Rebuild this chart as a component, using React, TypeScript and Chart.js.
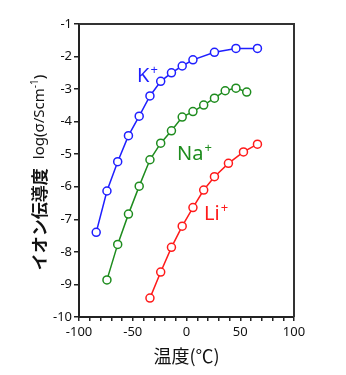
import React, { useEffect, useRef } from "react";
import { Chart, registerables } from "chart.js";

Chart.register(...registerables);

const kTemp = [-84, -74, -64, -54, -44, -34, -24, -14, -4, 6, 26, 46, 66];
const kVal = [-7.4, -6.13, -5.23, -4.43, -3.83, -3.21, -2.76, -2.5, -2.29, -2.1, -1.87, -1.75, -1.75];
const naTemp = [-74, -64, -54, -44, -34, -24, -14, -4, 6, 16, 26, 36, 46, 56];
const naVal = [-8.86, -7.77, -6.84, -5.98, -5.17, -4.66, -4.28, -3.86, -3.69, -3.49, -3.28, -3.05, -2.97, -3.09];
const liTemp = [-34, -24, -14, -4, 6, 16, 26, 39, 53, 66];
const liVal = [-9.42, -8.62, -7.86, -7.21, -6.64, -6.1, -5.69, -5.28, -4.93, -4.69];

const seriesNames = ["K", "Na", "Li"];
const seriesColors = ["#1f1fff", "#1e8c1e", "#ff1a1a"];
// label anchor positions in data units (temperature, log σ)
const labelX = [-46, -8.8, 16.3];
const labelY = [-2.78, -5.18, -7.02];

const xTitle = "温度(℃)";
const yTitleJa = "イオン伝導度";
const yTitleLog = "log(σ/Scm";
const yTitleSup = "-1";

const FONT = '"Noto Sans", "Noto Sans CJK JP", sans-serif';
const JFONT = '"Noto Sans CJK JP", "Noto Sans", sans-serif';

const pts = (xs: number[], ys: number[]) => xs.map((x, i) => ({ x, y: ys[i] }));

const decorPlugin = {
  id: "decor",
  afterDraw(chart: any) {
    const { ctx, chartArea: a, scales } = chart;
    ctx.save();
    // top and right frame
    ctx.strokeStyle = "#333";
    ctx.lineWidth = 2;
    ctx.beginPath();
    ctx.moveTo(a.left, a.top);
    ctx.lineTo(a.right, a.top);
    ctx.lineTo(a.right, a.bottom);
    ctx.stroke();

    // series labels
    ctx.textBaseline = "alphabetic";
    ctx.textAlign = "left";
    seriesNames.forEach((n, i) => {
      const px = scales.x.getPixelForValue(labelX[i]);
      const py = scales.y.getPixelForValue(labelY[i]);
      ctx.fillStyle = seriesColors[i];
      ctx.font = `20px ${FONT}`;
      ctx.fillText(n, px, py);
      const w = ctx.measureText(n).width;
      ctx.font = `13px ${FONT}`;
      ctx.fillText("+", px + w + 1, py - 8);
    });

    // x title
    ctx.fillStyle = "#111";
    ctx.font = `18px ${JFONT}`;
    ctx.textAlign = "center";
    ctx.textBaseline = "middle";
    ctx.fillText(xTitle, (a.left + a.right) / 2, 356);

    // y title (rotated)
    ctx.translate(40, (a.top + a.bottom) / 2 + 2);
    ctx.rotate(-Math.PI / 2);
    ctx.textAlign = "left";
    ctx.textBaseline = "middle";
    ctx.font = `bold 17px ${JFONT}`;
    const w1 = ctx.measureText(yTitleJa).width;
    ctx.font = `15px ${FONT}`;
    const w2 = ctx.measureText(yTitleLog).width;
    ctx.font = `10px ${FONT}`;
    const w3 = ctx.measureText(yTitleSup).width;
    ctx.font = `15px ${FONT}`;
    const w4 = ctx.measureText(")").width;
    const gap = 9;
    const total = w1 + gap + w2 + w3 + w4;
    let cx = -total / 2;
    ctx.font = `bold 17px ${JFONT}`;
    ctx.fillText(yTitleJa, cx, 0);
    cx += w1 + gap;
    ctx.font = `15px ${FONT}`;
    ctx.fillText(yTitleLog, cx, 0);
    cx += w2;
    ctx.font = `10px ${FONT}`;
    ctx.fillText(yTitleSup, cx, -5);
    cx += w3;
    ctx.font = `15px ${FONT}`;
    ctx.fillText(")", cx, 0);
    ctx.restore();
  },
};

export default function App() {
  const ref = useRef<HTMLCanvasElement>(null);
  useEffect(() => {
    document.body.style.margin = "0";
    const mk = (i: number, xs: number[], ys: number[]) => ({
      label: seriesNames[i],
      data: pts(xs, ys),
      borderColor: seriesColors[i],
      backgroundColor: "#fff",
      pointBackgroundColor: "#fff",
      pointBorderColor: seriesColors[i],
      pointRadius: 4,
      pointBorderWidth: 1.5,
      borderWidth: 1.5,
      tension: 0,
    });
    const chart = new Chart(ref.current!, {
      type: "line",
      data: {
        datasets: [mk(0, kTemp, kVal), mk(1, naTemp, naVal), mk(2, liTemp, liVal)],
      },
      options: {
        responsive: false,
        animation: false,
        layout: { padding: { top: 24, right: 52, left: 0, bottom: 0 } },
        plugins: { legend: { display: false }, tooltip: { enabled: false } },
        scales: {
          x: {
            type: "linear",
            min: -100,
            max: 100,
            afterFit: (s: any) => {
              s.height = 58;
            },
            border: { display: true, color: "#222", width: 2 },
            grid: { drawOnChartArea: false, drawTicks: true, tickLength: 4, color: "#222", lineWidth: 1.5 },
            ticks: {
              stepSize: 10,
              autoSkip: false,
              maxRotation: 0,
              padding: 3,
              color: "#111",
              font: { family: FONT, size: 13 },
              callback: (v: any) => (Number(v) % 50 === 0 ? String(v) : ""),
            },
          },
          y: {
            type: "linear",
            min: -10,
            max: -1,
            afterFit: (s: any) => {
              s.width = 79;
            },
            border: { display: true, color: "#222", width: 2 },
            grid: { drawOnChartArea: false, drawTicks: true, tickLength: 5, color: "#222", lineWidth: 1.5 },
            ticks: {
              stepSize: 1,
              padding: 2,
              color: "#111",
              font: { family: FONT, size: 13 },
            },
          },
        },
      },
      plugins: [decorPlugin],
    } as any);
    return () => chart.destroy();
  }, []);
  return <canvas ref={ref} width={346} height={375} style={{ display: "block" }} />;
}
